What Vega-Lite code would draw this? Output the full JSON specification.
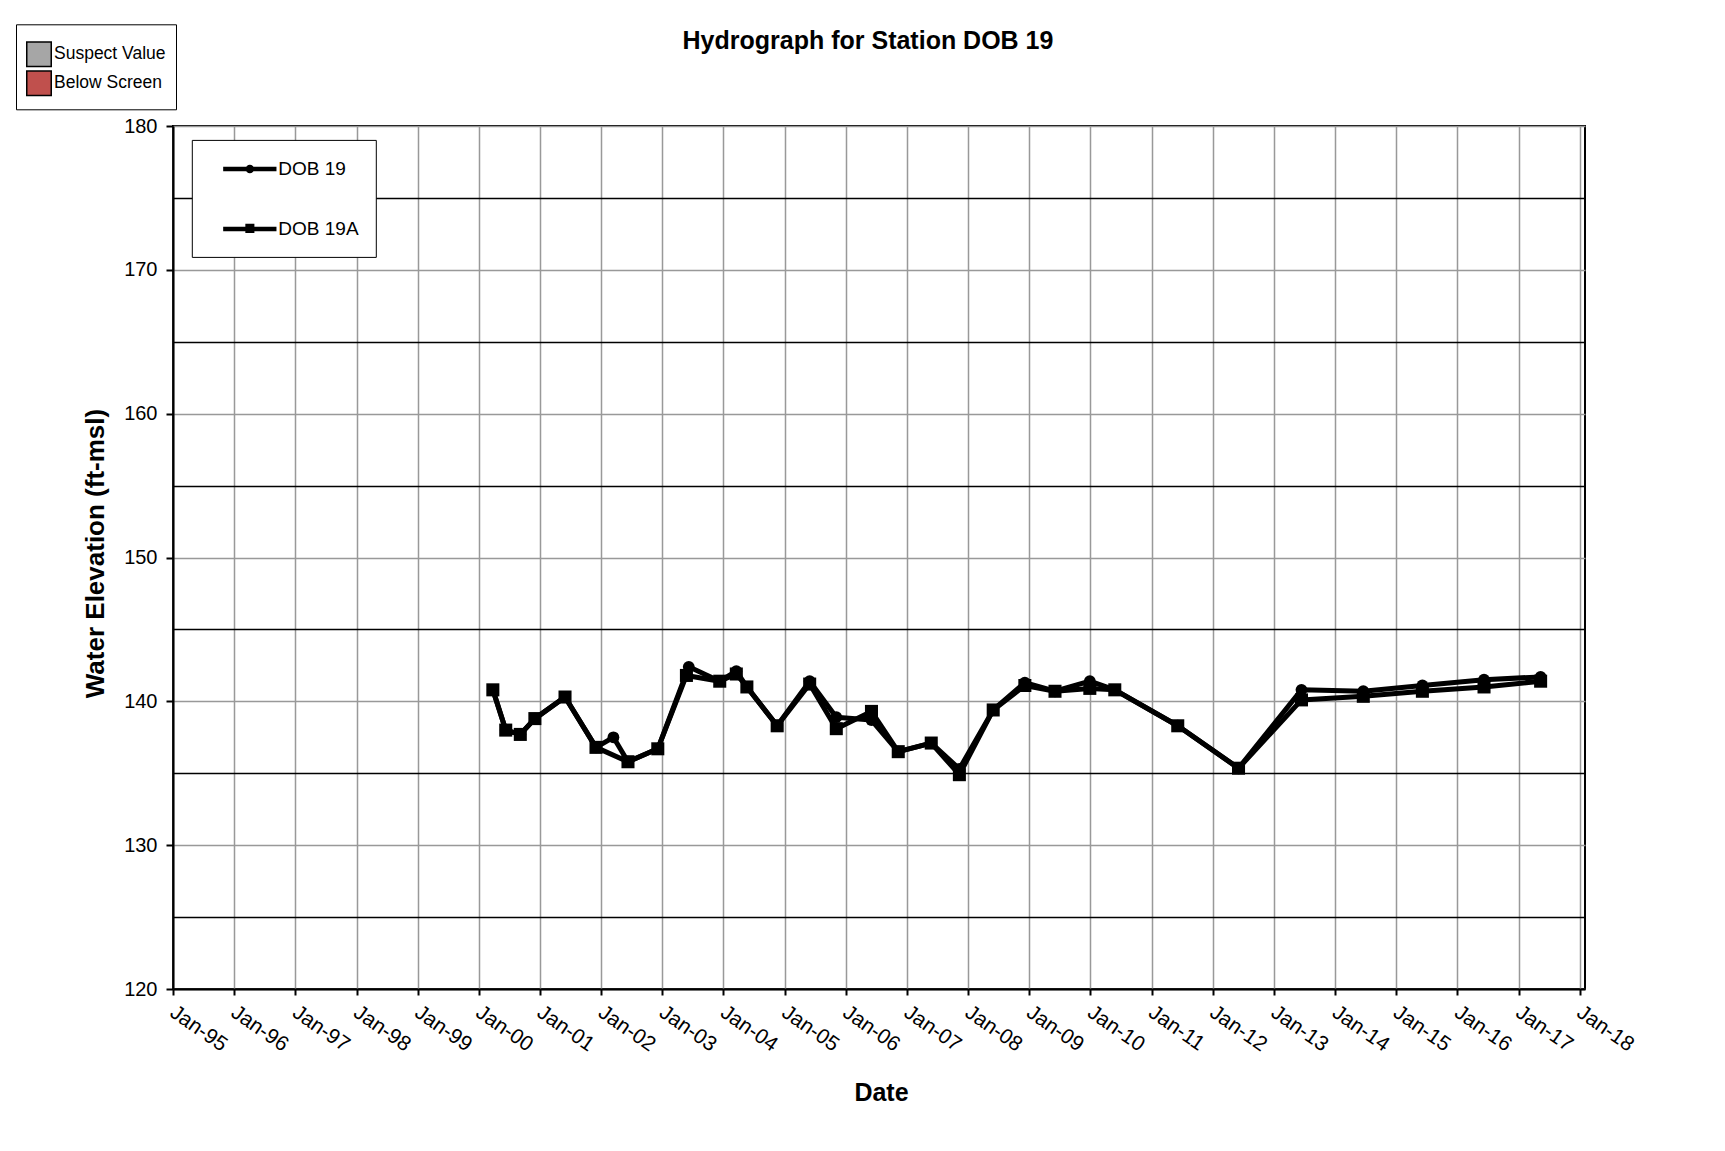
{
  "$schema": "https://vega.github.io/schema/vega-lite/v6.json",
  "width": 1412,
  "height": 863,
  "autosize": {"type": "none"},
  "padding": {"left": 173, "top": 126, "right": 140, "bottom": 162},
  "background": "white",
  "title": {"text": "Hydrograph for Station DOB 19", "fontSize": 25, "fontWeight": "bold", "anchor": "middle", "frame": "group", "dx": -11, "offset": -30, "color": "black"},
  "config": {
    "font": "Liberation Sans",
    "view": {"stroke": "black", "strokeWidth": 2},
    "axis": {"labelColor": "black", "titleColor": "black", "domainColor": "black", "tickColor": "black"}
  },
  "datasets": {
    "wells": [
      {"date": "2000-03-25", "value": 140.8, "series": "DOB 19"},
      {"date": "2000-06-10", "value": 138.0, "series": "DOB 19"},
      {"date": "2000-09-05", "value": 137.7, "series": "DOB 19"},
      {"date": "2000-12-01", "value": 138.8, "series": "DOB 19"},
      {"date": "2001-05-30", "value": 140.3, "series": "DOB 19"},
      {"date": "2001-12-01", "value": 136.8, "series": "DOB 19"},
      {"date": "2002-03-15", "value": 137.5, "series": "DOB 19"},
      {"date": "2002-06-10", "value": 135.8, "series": "DOB 19"},
      {"date": "2002-12-05", "value": 136.7, "series": "DOB 19"},
      {"date": "2003-06-08", "value": 142.4, "series": "DOB 19"},
      {"date": "2003-12-10", "value": 141.4, "series": "DOB 19"},
      {"date": "2004-03-18", "value": 142.1, "series": "DOB 19"},
      {"date": "2004-05-20", "value": 141.0, "series": "DOB 19"},
      {"date": "2004-11-17", "value": 138.3, "series": "DOB 19"},
      {"date": "2005-05-30", "value": 141.4, "series": "DOB 19"},
      {"date": "2005-11-05", "value": 138.9, "series": "DOB 19"},
      {"date": "2006-06-03", "value": 138.7, "series": "DOB 19"},
      {"date": "2006-11-10", "value": 136.5, "series": "DOB 19"},
      {"date": "2007-05-26", "value": 137.1, "series": "DOB 19"},
      {"date": "2007-11-10", "value": 135.3, "series": "DOB 19"},
      {"date": "2008-05-30", "value": 139.4, "series": "DOB 19"},
      {"date": "2008-12-05", "value": 141.3, "series": "DOB 19"},
      {"date": "2009-06-03", "value": 140.7, "series": "DOB 19"},
      {"date": "2009-12-28", "value": 141.4, "series": "DOB 19"},
      {"date": "2010-05-26", "value": 140.8, "series": "DOB 19"},
      {"date": "2011-06-06", "value": 138.3, "series": "DOB 19"},
      {"date": "2012-06-03", "value": 135.35, "series": "DOB 19"},
      {"date": "2013-06-14", "value": 140.8, "series": "DOB 19"},
      {"date": "2014-06-18", "value": 140.7, "series": "DOB 19"},
      {"date": "2015-06-06", "value": 141.1, "series": "DOB 19"},
      {"date": "2016-06-08", "value": 141.5, "series": "DOB 19"},
      {"date": "2017-05-12", "value": 141.7, "series": "DOB 19"},
      {"date": "2000-03-25", "value": 140.8, "series": "DOB 19A"},
      {"date": "2000-06-10", "value": 138.0, "series": "DOB 19A"},
      {"date": "2000-09-05", "value": 137.7, "series": "DOB 19A"},
      {"date": "2000-12-01", "value": 138.8, "series": "DOB 19A"},
      {"date": "2001-05-30", "value": 140.3, "series": "DOB 19A"},
      {"date": "2001-12-01", "value": 136.8, "series": "DOB 19A"},
      {"date": "2002-06-10", "value": 135.8, "series": "DOB 19A"},
      {"date": "2002-12-05", "value": 136.7, "series": "DOB 19A"},
      {"date": "2003-05-25", "value": 141.8, "series": "DOB 19A"},
      {"date": "2003-12-10", "value": 141.4, "series": "DOB 19A"},
      {"date": "2004-03-18", "value": 141.9, "series": "DOB 19A"},
      {"date": "2004-05-20", "value": 141.0, "series": "DOB 19A"},
      {"date": "2004-11-17", "value": 138.3, "series": "DOB 19A"},
      {"date": "2005-05-30", "value": 141.2, "series": "DOB 19A"},
      {"date": "2005-11-05", "value": 138.1, "series": "DOB 19A"},
      {"date": "2006-06-03", "value": 139.3, "series": "DOB 19A"},
      {"date": "2006-11-10", "value": 136.5, "series": "DOB 19A"},
      {"date": "2007-05-26", "value": 137.1, "series": "DOB 19A"},
      {"date": "2007-11-10", "value": 134.9, "series": "DOB 19A"},
      {"date": "2008-05-30", "value": 139.4, "series": "DOB 19A"},
      {"date": "2008-12-05", "value": 141.1, "series": "DOB 19A"},
      {"date": "2009-06-03", "value": 140.7, "series": "DOB 19A"},
      {"date": "2009-12-28", "value": 140.9, "series": "DOB 19A"},
      {"date": "2010-05-26", "value": 140.8, "series": "DOB 19A"},
      {"date": "2011-06-06", "value": 138.3, "series": "DOB 19A"},
      {"date": "2012-06-03", "value": 135.35, "series": "DOB 19A"},
      {"date": "2013-06-14", "value": 140.1, "series": "DOB 19A"},
      {"date": "2014-06-18", "value": 140.35, "series": "DOB 19A"},
      {"date": "2015-06-06", "value": 140.7, "series": "DOB 19A"},
      {"date": "2016-06-08", "value": 141.0, "series": "DOB 19A"},
      {"date": "2017-05-12", "value": 141.4, "series": "DOB 19A"}
    ],
    "flags": [
      {"flag": "Suspect Value"},
      {"flag": "Below Screen"}
    ]
  },
  "layer": [
    {
      "data": {"name": "wells"},
      "mark": {"type": "line", "strokeWidth": 5, "color": "black", "strokeJoin": "round"},
      "encoding": {
        "x": {
          "field": "date", "type": "temporal",
          "scale": {"type": "utc", "domain": [{"year": 1995, "month": 1, "date": 1, "utc": true}, {"year": 2018, "month": 2, "date": 1, "utc": true}]},
          "axis": {
            "title": "Date", "titleFontSize": 25, "titleFontWeight": "bold",
            "titleX": 708, "titleY": 103, "titleBaseline": "middle", "titleAlign": "center",
            "labelExpr": "utcFormat(datum.value, '%b-%y')",
            "tickCount": {"interval": "year", "step": 1},
            "labelAngle": 35, "labelFontSize": 21, "labelAlign": "left", "labelBaseline": "top", "labelPadding": 6, "labelOffset": 5, "labelOverlap": false, "labelFlush": false,
            "tickSize": 6, "tickWidth": 2, "domainWidth": 2,
            "grid": true, "gridColor": "#999999", "gridWidth": 1.5
          }
        },
        "y": {
          "field": "value", "type": "quantitative",
          "scale": {"domain": [120, 180], "nice": false, "zero": false},
          "axis": {
            "title": "Water Elevation (ft-msl)", "titleFontSize": 26, "titleFontWeight": "bold",
            "titleX": -78, "titleY": 427, "titleBaseline": "middle", "titleAlign": "center",
            "values": [120, 125, 130, 135, 140, 145, 150, 155, 160, 165, 170, 175, 180],
            "labelExpr": "datum.value % 10 === 0 ? datum.label : ''",
            "labelFontSize": 20, "labelPadding": 9,
            "tickSize": 7, "tickWidth": 2, "domainWidth": 2,
            "tickOpacity": {"condition": {"test": "datum.value % 10 === 5", "value": 0}, "value": 1},
            "grid": true, "gridWidth": 1.5,
            "gridColor": {"condition": {"test": "datum.value % 10 === 5", "value": "black"}, "value": "#999999"}
          }
        },
        "detail": {"field": "series", "type": "nominal"}
      }
    },
    {
      "data": {"name": "wells"},
      "transform": [{"filter": "datum.series === 'DOB 19'"}],
      "mark": {"type": "point", "shape": "circle", "filled": true, "color": "black", "opacity": 1, "size": 140},
      "encoding": {
        "x": {"field": "date", "type": "temporal"},
        "y": {"field": "value", "type": "quantitative"}
      }
    },
    {
      "data": {"name": "wells"},
      "transform": [{"filter": "datum.series === 'DOB 19A'"}],
      "mark": {"type": "point", "shape": "square", "filled": true, "color": "black", "opacity": 1, "size": 170},
      "encoding": {
        "x": {"field": "date", "type": "temporal"},
        "y": {"field": "value", "type": "quantitative"}
      }
    },
    {
      "data": {"name": "wells"},
      "transform": [{"filter": "false"}],
      "mark": {"type": "point", "filled": false, "color": "black", "strokeWidth": 4.5, "opacity": 1},
      "encoding": {
        "shape": {
          "field": "series", "type": "nominal",
          "scale": {"domain": ["DOB 19", "DOB 19A"], "range": [
            "M 2.85,0 A 0.21,0.21 0 1,0 3.27,0 A 0.21,0.21 0 1,0 2.85,0 Z M 0.25,0 H 5.86",
            "M 2.82,-0.3 H 3.3 V 0.2 H 2.82 Z M 0.25,0 H 5.86"
          ]},
          "legend": {
            "orient": "none", "legendX": 18.8, "legendY": 13.9, "title": null,
            "strokeColor": "black", "fillColor": "white", "padding": 17,
            "symbolSize": 361, "symbolStrokeWidth": 4.5, "symbolStrokeColor": "black", "symbolFillColor": "black", "symbolOpacity": 1,
            "labelFontSize": 19, "labelColor": "black", "labelOffset": 45.5, "rowPadding": 37
          }
        }
      }
    },
    {
      "data": {"name": "flags"},
      "transform": [{"filter": "false"}],
      "mark": {"type": "point", "shape": "square", "filled": true, "opacity": 1},
      "encoding": {
        "fill": {
          "field": "flag", "type": "nominal",
          "scale": {"domain": ["Suspect Value", "Below Screen"], "range": ["#a6a6a6", "#c0504d"]},
          "legend": {
            "orient": "none", "legendX": -157, "legendY": -101.7, "title": " ", "titleFontSize": 7, "titlePadding": 0,
            "strokeColor": "black", "fillColor": "white", "padding": 10,
            "symbolType": "square", "symbolSize": 600, "symbolStrokeColor": "black", "symbolStrokeWidth": 1.5, "symbolOpacity": 1,
            "labelFontSize": 17.5, "labelColor": "black", "labelOffset": 2, "rowPadding": -3
          }
        }
      }
    }
  ]
}
